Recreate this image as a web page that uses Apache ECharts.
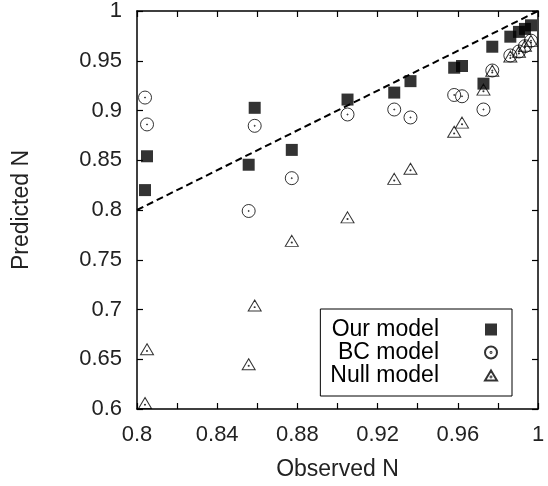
<!DOCTYPE html>
<html>
<head>
<meta charset="utf-8">
<script src="https://cdn.jsdelivr.net/npm/echarts@6/dist/echarts.min.js"></script>
<style>
html,body{margin:0;padding:0;background:#fff;}
#chart{width:548px;height:486px;}
</style>
</head>
<body>
<div id="chart"></div>
<script>
// Observed N (x) shared by all three models
var observed = [0.804, 0.805, 0.8557, 0.8587, 0.8772, 0.905, 0.9283, 0.9364, 0.9582, 0.9621, 0.9728, 0.9772, 0.9862, 0.9905, 0.9935, 0.9965];
// Predicted N per model
var ourModel  = [0.820, 0.854, 0.8455, 0.9027, 0.8604, 0.911, 0.918, 0.9295, 0.943, 0.9447, 0.927, 0.9641, 0.9742, 0.979, 0.982, 0.9856];
var bcModel   = [0.913, 0.886, 0.799, 0.8846, 0.832, 0.896, 0.901, 0.893, 0.9156, 0.9143, 0.901, 0.9402, 0.9553, 0.9593, 0.9646, 0.9702];
var nullModel = [0.606, 0.660, 0.645, 0.704, 0.769, 0.7926, 0.8313, 0.8415, 0.8786, 0.8878, 0.921, 0.9399, 0.9543, 0.959, 0.965, 0.970];
var diagonal = [[0.8, 0.8], [1, 1]];
var seriesNames = ['Our model', 'BC model', 'Null model'];
var xTicks = {min: 0.8, max: 1, step: 0.04};
var yTicks = {min: 0.6, max: 1, step: 0.05};

function pairs(xs, ys) { return xs.map(function (x, i) { return [x, ys[i]]; }); }
function fmt(v) { return String(+v.toFixed(2)); }

var FONT = 'Liberation Sans';
var TXT = '#222';
var circlePath = 'path://M0,10 A10,10 0 1,0 20,10 A10,10 0 1,0 0,10 Z M9.2,10 A0.8,0.8 0 1,0 10.8,10 A0.8,0.8 0 1,0 9.2,10 Z';
var triPath = 'path://M10,0 L20,17 L0,17 Z M9.2,11 A0.8,0.8 0 1,0 10.8,11 A0.8,0.8 0 1,0 9.2,11 Z';

function xAxisDef(pos, showLabel) {
  return {
    type: 'value', position: pos, min: xTicks.min, max: xTicks.max, interval: xTicks.step,
    axisLine: {show: true, onZero: false, lineStyle: {color: '#000', width: 1.5}},
    axisTick: {show: true, inside: true, length: 6, lineStyle: {color: '#000', width: 1.2}},
    minorTick: {show: true, splitNumber: 2, length: 6, lineStyle: {color: '#000', width: 1.2}},
    splitLine: {show: false},
    axisLabel: {show: showLabel, formatter: fmt, color: TXT, fontFamily: FONT, fontSize: 22, margin: 15},
    name: showLabel ? 'Observed N' : '', nameLocation: 'middle', nameGap: 49,
    nameTextStyle: {color: TXT, fontFamily: FONT, fontSize: 23}
  };
}
function yAxisDef(pos, showLabel) {
  return {
    type: 'value', position: pos, min: yTicks.min, max: yTicks.max, interval: yTicks.step,
    axisLine: {show: true, onZero: false, lineStyle: {color: '#000', width: 1.5}},
    axisTick: {show: true, inside: true, length: 6, lineStyle: {color: '#000', width: 1.2}},
    splitLine: {show: false},
    axisLabel: {show: showLabel, formatter: fmt, color: TXT, fontFamily: FONT, fontSize: 22, margin: 15},
    name: showLabel ? 'Predicted N' : '', nameLocation: 'middle', nameGap: 104,
    nameTextStyle: {color: TXT, fontFamily: FONT, fontSize: 23}
  };
}

var chart = echarts.init(document.getElementById('chart'), null, {renderer: 'canvas'});
chart.setOption({
  animation: false,
  backgroundColor: '#fff',
  grid: {left: 137, right: 10, top: 11, bottom: 72},
  xAxis: [xAxisDef('bottom', true), xAxisDef('top', false)],
  yAxis: [yAxisDef('left', true), yAxisDef('right', false)],
  legend: {
    data: seriesNames,
    orient: 'vertical', align: 'right',
    right: 36, top: 309,
    padding: [9, 14, 9, 10],
    itemGap: 0, itemWidth: 12, itemHeight: 12,
    backgroundColor: '#fff', borderColor: '#000', borderWidth: 1,
    selectedMode: false,
    textStyle: {color: '#000', fontFamily: FONT, fontSize: 23, lineHeight: 22, padding: [0, 41, 0, 0]}
  },
  series: [
    {
      type: 'line', data: diagonal, symbol: 'none', silent: true,
      lineStyle: {color: '#000', width: 2, type: [7, 4]}, z: 1
    },
    {
      name: seriesNames[0], type: 'scatter', data: pairs(observed, ourModel),
      symbol: 'rect', symbolSize: 12,
      itemStyle: {color: '#000'}, emphasis: {disabled: true}, z: 3
    },
    {
      name: seriesNames[1], type: 'scatter', data: pairs(observed, bcModel),
      symbol: circlePath, symbolSize: 13,
      itemStyle: {color: 'rgba(0,0,0,0)', borderColor: '#000', borderWidth: 1}, emphasis: {disabled: true}, z: 2
    },
    {
      name: seriesNames[2], type: 'scatter', data: pairs(observed, nullModel),
      symbol: triPath, symbolSize: [13, 11],
      itemStyle: {color: 'rgba(0,0,0,0)', borderColor: '#000', borderWidth: 1}, emphasis: {disabled: true}, z: 2
    }
  ]
});
</script>
</body>
</html>
